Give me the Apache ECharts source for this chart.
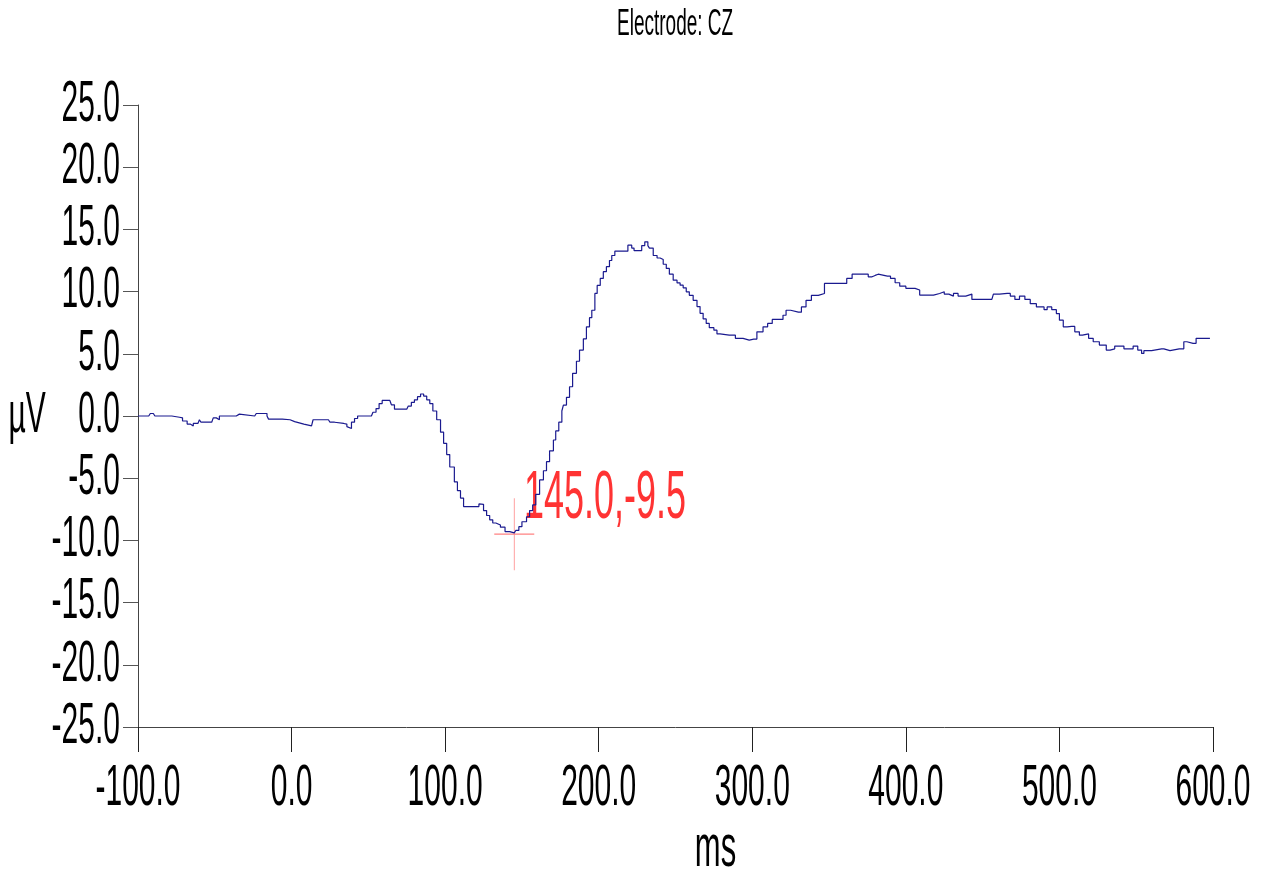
<!DOCTYPE html>
<html>
<head>
<meta charset="utf-8">
<title>Electrode: CZ</title>
<script src="https://cdn.jsdelivr.net/npm/echarts@6/dist/echarts.min.js"></script>
<style>
  html, body { margin: 0; padding: 0; background: #fff; }
  #erp-chart { width: 1267px; height: 875px; }
</style>
</head>
<body>
<div id="erp-chart"></div>
<script>
// 采样时间 (ms) 与电压 (µV)
const times = [
  -100, -93, -92, -90, -89, -78, -77, -73, -71, -68, -66, -64, -61, -60, -59, -52, -51, -49, -47, -36,
  -35, -34, -24, -23, -21, -20, -18, -16, -15, -9, -6, -1, 0, 2, 5, 8, 13, 14, 24, 25,
  28, 34, 36, 37, 39, 41, 43, 52, 53, 55, 57, 59, 64, 65, 67, 75, 76, 78, 80, 82,
  84, 86, 88, 90, 92, 94.5, 97, 99, 101, 103, 106, 108, 110, 112, 120.5, 122, 123, 125, 127, 129,
  131, 133, 136, 139, 142, 145, 146, 148, 150, 153, 155, 157, 159, 161.5, 164, 166, 168, 170.5, 172, 174,
  176, 177, 179, 181, 183, 185.5, 187.5, 190, 192, 194, 195.5, 197.5, 199, 201, 203, 205, 207, 208.5, 210.5, 217,
  219, 221.5, 223, 226, 228, 230, 232, 233, 235.5, 238, 240, 242, 244, 246, 248.5, 251, 253, 255, 257, 259,
  261.5, 264, 266, 268, 270, 272, 275, 277, 279, 285, 289, 294, 298, 301, 303, 307, 310, 313, 318, 320,
  322, 325, 330, 332, 335, 338.5, 343, 347, 359, 361.5, 365, 372, 375.5, 378, 380, 382, 388, 390, 393, 396,
  400, 406, 409, 418, 419, 422, 425, 428, 431, 434, 439, 443, 456, 457, 461, 466, 468, 471, 474, 477.5,
  481, 485, 490, 492, 495, 498, 500, 502.5, 505, 508, 510, 513, 515, 519, 522, 526, 530.5, 533, 536, 540,
  542, 546, 548, 551, 553.5, 555, 560, 561, 566.5, 568, 572, 573, 578, 581, 583, 587, 589, 598
]
const microvolts = [
  0, 0, 0.2, 0.2, 0, 0, -0.1, -0.15, -0.4, -0.65, -0.8, -0.6, -0.6, -0.3, -0.5, -0.5, -0.15, -0.3, 0, 0,
  0.15, 0, 0, 0.2, 0.1, 0.2, 0.2, 0, -0.25, -0.25, -0.3, -0.3, -0.45, -0.55, -0.65, -0.8, -0.8, -0.3, -0.3, -0.5,
  -0.6, -0.65, -0.85, -1.0, -0.5, -0.2, 0, 0, 0.3, 0.6, 1.0, 1.25, 1.25, 0.9, 0.55, 0.55, 0.8, 1.1, 1.3, 1.55,
  1.77, 1.6, 1.3, 1.0, 0.4, -0.3, -1.3, -2.2, -3.1, -4.1, -5.3, -6.0, -6.6, -7.28, -7.28, -7.07, -7.1, -7.6, -8.0, -8.35,
  -8.6, -8.76, -8.94, -9.29, -9.4, -9.5, -9.2, -8.9, -8.5, -8.1, -7.6, -7.15, -6.3, -5.14, -4.4, -3.67, -2.8, -1.93, -1.2, -0.5,
  0.4, 0.88, 1.5, 2.35, 3.43, 4.4, 5.3, 6.2, 7.17, 7.9, 8.5, 9.85, 10.5, 11.06, 11.6, 12.0, 12.5, 12.9, 13.25, 13.25,
  13.73, 13.5, 13.3, 13.3, 13.7, 14.0, 13.7, 13.5, 12.9, 12.7, 12.58, 12.2, 11.86, 11.4, 10.92, 10.7, 10.52, 10.3, 9.98, 9.7,
  9.3, 8.8, 8.25, 7.8, 7.44, 7.1, 6.9, 6.6, 6.5, 6.5, 6.24, 6.1, 6.18, 6.18, 6.77, 7.17, 7.44, 7.76, 7.76, 8.1,
  8.5, 8.35, 8.35, 8.77, 9.3, 9.7, 9.85, 10.66, 10.66, 11.06, 11.4, 11.4, 11.19, 11.3, 11.4, 11.24, 11.24, 11.06, 10.71, 10.44,
  10.26, 10.13, 9.72, 9.64, 9.85, 9.99, 9.8, 9.64, 9.85, 9.64, 9.8, 9.37, 9.37, 9.8, 9.85, 9.85, 9.64, 9.37, 9.64, 9.37,
  9.03, 8.77, 8.55, 8.77, 8.55, 8.23, 7.7, 7.17, 7.2, 7.2, 6.77, 6.5, 6.6, 6.24, 5.97, 5.7, 5.3, 5.4, 5.62, 5.62,
  5.4, 5.4, 5.62, 5.3, 5.03, 5.25, 5.25, 5.4, 5.4, 5.25, 5.25, 5.4, 5.4, 5.97, 5.84, 5.84, 6.24, 6.24
]
// 光标标记点
const cursorTime = [145.0]
const cursorValue = [-9.5]

const font = "'Liberation Sans', Arial, sans-serif"

const chartDom = document.getElementById('erp-chart')
const myChart = echarts.init(chartDom)

const option = {
  animation: false,
  backgroundColor: '#fff',
  title: {
    text: 'Electrode: CZ',
    left: 617,
    top: 7,
    padding: 0,
    textStyle: {
      fontFamily: font,
      fontSize: 19,
      fontWeight: 'normal',
      color: '#000'
    }
  },
  grid: {
    left: 138,
    right: 54,
    top: 105,
    bottom: 148
  },
  xAxis: {
    type: 'value',
    min: -100,
    max: 600,
    interval: 100,
    name: 'ms',
    nameLocation: 'middle',
    nameGap: 93,
    nameTextStyle: { fontFamily: font, fontSize: 31, color: '#000', padding: [0, 0, 0, 80] },
    axisLine: { show: true, onZero: false, lineStyle: { color: '#444', width: 1 } },
    axisTick: { show: true, length: 25, lineStyle: { color: '#222' } },
    axisLabel: {
      margin: 34,
      fontFamily: font,
      fontSize: 30,
      color: '#000',
      formatter: (v) => v.toFixed(1)
    },
    splitLine: { show: false }
  },
  yAxis: {
    type: 'value',
    min: -25,
    max: 25,
    interval: 5,
    name: 'µV',
    nameLocation: 'middle',
    nameRotate: 0,
    nameGap: 83,
    nameTextStyle: { fontFamily: font, fontSize: 30, color: '#000' },
    axisLine: { show: true, onZero: false, lineStyle: { color: '#444', width: 1 } },
    axisTick: { show: true, length: 15, lineStyle: { color: '#555' } },
    axisLabel: {
      margin: 18,
      fontFamily: font,
      fontSize: 30,
      color: '#000',
      formatter: (v) => v.toFixed(1)
    },
    splitLine: { show: false }
  },
  series: [
    {
      name: 'CZ',
      type: 'line',
      step: 'end',
      showSymbol: false,
      silent: true,
      lineStyle: { color: '#1a1a8f', width: 1.2 },
      data: times.map((t, i) => [t, microvolts[i]])
    },
    {
      name: 'cursor',
      type: 'scatter',
      silent: true,
      symbol: 'path://M0 36 L40 36 M20 0 L20 72',
      symbolSize: [40, 72],
      itemStyle: {
        color: 'rgba(0,0,0,0)',
        borderColor: 'rgba(255, 60, 60, 0.8)',
        borderWidth: 1
      },
      label: {
        show: true,
        position: [30, -33],
        fontFamily: font,
        fontSize: 36,
        color: '#ff0000',
        formatter: (p) => p.value[0].toFixed(1) + ',' + p.value[1].toFixed(1)
      },
      data: cursorTime.map((t, i) => [t, cursorValue[i]])
    }
  ]
}

option && myChart.setOption(option)

// 原图的字是窄长的，这里把所有文字纵向拉高
const zr = myChart.getZr()
const stretch = (el) => {
  if (el.type === 'text') {
    el.scaleY = 1.9
    el.markRedraw()
  }
  const label = el.getTextContent && el.getTextContent()
  if (label) stretch(label)
  if (el.isGroup) el.eachChild(stretch)
}
zr.storage.getRoots().forEach(stretch)
zr.refreshImmediately()
</script>
</body>
</html>
